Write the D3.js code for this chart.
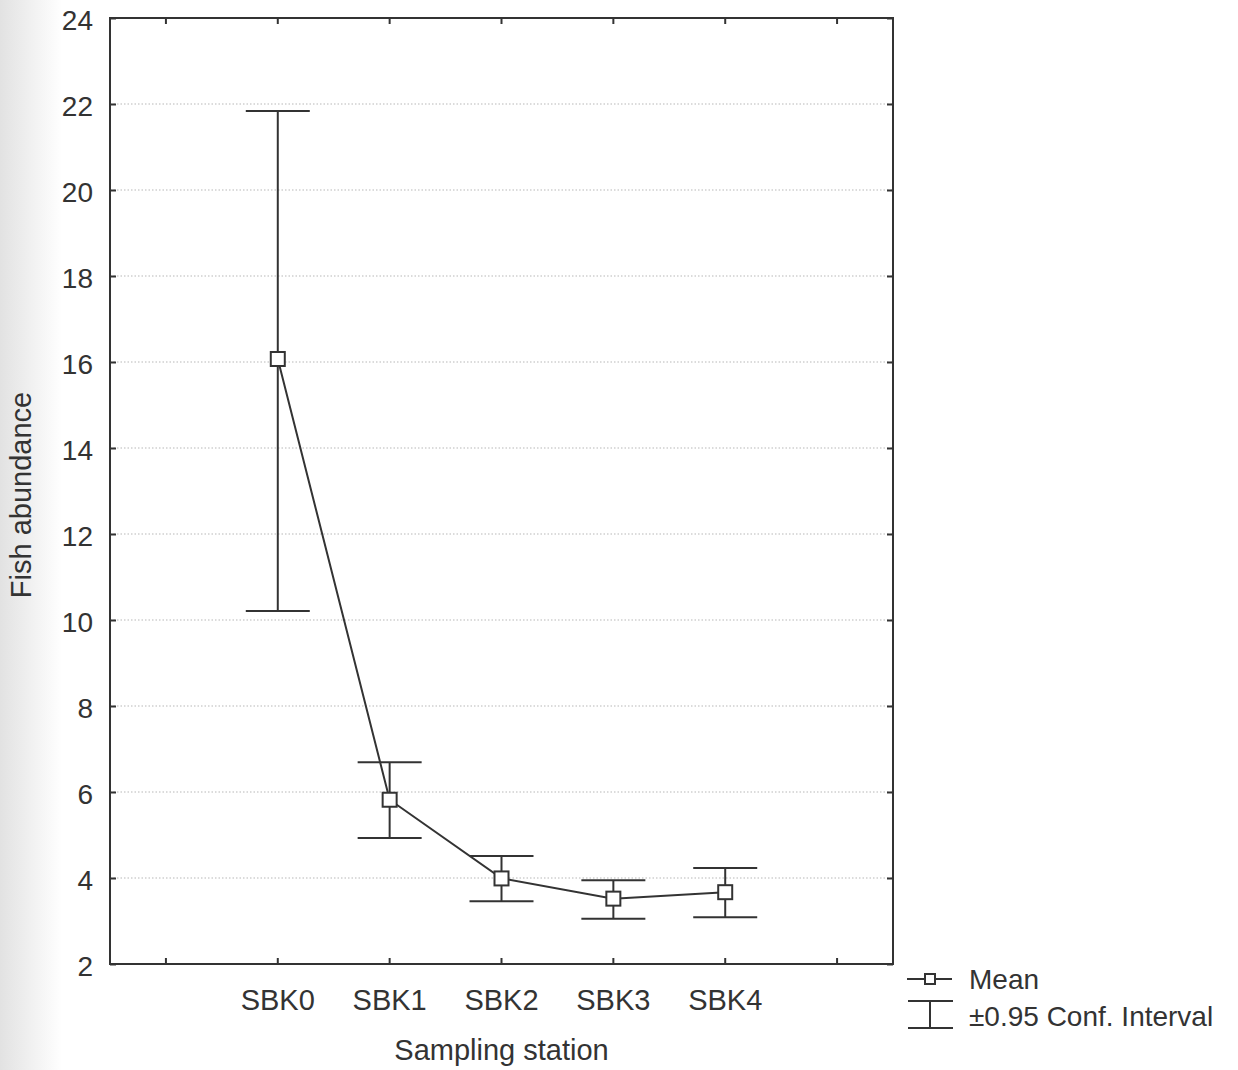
<!DOCTYPE html>
<html>
<head>
<meta charset="utf-8">
<script src="https://cdn.jsdelivr.net/npm/d3@7"></script>
<style>
  html, body { margin: 0; padding: 0; background: #fff; }
  svg { display: block; }
  text { font-family: "Liberation Sans", Arial, sans-serif; fill: #333; }
</style>
</head>
<body>
<svg id="chart" width="1238" height="1070"></svg>
<script>
// Fish abundance per sampling station: mean with 95% confidence interval
const stations = ["SBK0", "SBK1", "SBK2", "SBK3", "SBK4"];
const means = [16.07, 5.82, 3.99, 3.52, 3.67];
const upper = [21.84, 6.69, 4.51, 3.95, 4.23];
const lower = [10.21, 4.93, 3.46, 3.05, 3.09];
const yTicks = [2, 4, 6, 8, 10, 12, 14, 16, 18, 20, 22, 24];
const legendLabels = ["Mean", "\u00B10.95 Conf. Interval"];
const xTitle = "Sampling station";
const yTitle = "Fish abundance";

const data = stations.map((s, i) => ({ s, m: means[i], hi: upper[i], lo: lower[i] }));

const margin = { left: 110, right: 893, top: 18, bottom: 964 };
const ink = "#333";

const svg = d3.select("#chart");

// soft grey edge along the left margin
const defs = svg.append("defs");
const grad = defs.append("linearGradient").attr("id", "edge").attr("x1", 0).attr("x2", 1);
grad.append("stop").attr("offset", 0).attr("stop-color", "#e2e2e2");
grad.append("stop").attr("offset", 1).attr("stop-color", "#ffffff");
svg.append("rect").attr("x", 0).attr("y", 0).attr("width", 62).attr("height", 1070).attr("fill", "url(#edge)");

const x = d3.scalePoint().domain(stations).range([margin.left, margin.right]).padding(1.5);
const y = d3.scaleLinear().domain([2, 24]).range([margin.bottom, margin.top]);

// dotted horizontal grid
svg.append("g").selectAll("line")
  .data(yTicks.filter(t => t > 2 && t < 24))
  .join("line")
  .attr("x1", margin.left).attr("x2", margin.right)
  .attr("y1", d => y(d)).attr("y2", d => y(d))
  .attr("stroke", "#b8b8b8").attr("stroke-width", 1.2)
  .attr("stroke-dasharray", "1.5,2");

// category tick positions, including the empty slots at each end
const step = x.step();
const xTickPos = d3.range(-1, stations.length + 1).map(i => x(stations[0]) + i * step);
const tickLen = 6;

// left and right axes
const yAxisL = d3.axisLeft(y).tickValues(yTicks).tickSize(-tickLen).tickPadding(17).tickFormat(d3.format("d"));
const gL = svg.append("g").attr("transform", `translate(${margin.left},0)`).call(yAxisL);
gL.select(".domain").remove();
gL.selectAll("line").attr("stroke", ink).attr("stroke-width", 2);
gL.selectAll("text").attr("font-size", 28).attr("fill", ink).attr("dy", "0.4em")
  .attr("font-family", "'Liberation Sans', Arial, sans-serif");

const yAxisR = d3.axisRight(y).tickValues(yTicks).tickSize(-tickLen).tickFormat("");
const gR = svg.append("g").attr("transform", `translate(${margin.right},0)`).call(yAxisR);
gR.select(".domain").remove();
gR.selectAll("line").attr("stroke", ink).attr("stroke-width", 2);

// top and bottom ticks
svg.append("g").selectAll("line").data(xTickPos).join("line")
  .attr("x1", d => d).attr("x2", d => d)
  .attr("y1", margin.bottom).attr("y2", margin.bottom - tickLen)
  .attr("stroke", ink).attr("stroke-width", 2);
svg.append("g").selectAll("line").data(xTickPos).join("line")
  .attr("x1", d => d).attr("x2", d => d)
  .attr("y1", margin.top).attr("y2", margin.top + tickLen)
  .attr("stroke", ink).attr("stroke-width", 2);

// category labels
svg.append("g").selectAll("text").data(stations).join("text")
  .attr("x", d => x(d)).attr("y", 1010)
  .attr("text-anchor", "middle").attr("font-size", 29)
  .text(d => d);

// frame
svg.append("rect")
  .attr("x", margin.left).attr("y", margin.top)
  .attr("width", margin.right - margin.left).attr("height", margin.bottom - margin.top)
  .attr("fill", "none").attr("stroke", ink).attr("stroke-width", 2);

// axis titles
svg.append("text").attr("x", (margin.left + margin.right) / 2).attr("y", 1060)
  .attr("text-anchor", "middle").attr("font-size", 29).text(xTitle);
svg.append("text").attr("transform", `translate(31,${(margin.top + margin.bottom) / 2 + 4}) rotate(-90)`)
  .attr("text-anchor", "middle").attr("font-size", 29).text(yTitle);

// confidence intervals
const cap = 32;
const eb = svg.append("g").attr("stroke", ink).attr("stroke-width", 2).attr("fill", "none");
eb.selectAll(".v").data(data).join("line").attr("class", "v")
  .attr("x1", d => x(d.s)).attr("x2", d => x(d.s))
  .attr("y1", d => y(d.hi)).attr("y2", d => y(d.lo));
eb.selectAll(".t").data(data).join("line").attr("class", "t")
  .attr("x1", d => x(d.s) - cap).attr("x2", d => x(d.s) + cap)
  .attr("y1", d => y(d.hi)).attr("y2", d => y(d.hi));
eb.selectAll(".b").data(data).join("line").attr("class", "b")
  .attr("x1", d => x(d.s) - cap).attr("x2", d => x(d.s) + cap)
  .attr("y1", d => y(d.lo)).attr("y2", d => y(d.lo));

// mean line and markers
const line = d3.line().x(d => x(d.s)).y(d => y(d.m));
svg.append("path").datum(data).attr("d", line)
  .attr("fill", "none").attr("stroke", ink).attr("stroke-width", 2);
const sq = 14;
svg.append("g").selectAll("rect").data(data).join("rect")
  .attr("x", d => x(d.s) - sq / 2).attr("y", d => y(d.m) - sq / 2)
  .attr("width", sq).attr("height", sq)
  .attr("fill", "#fff").attr("stroke", ink).attr("stroke-width", 2);

// legend
const lg = svg.append("g");
lg.append("line").attr("x1", 907).attr("x2", 952).attr("y1", 979).attr("y2", 979)
  .attr("stroke", ink).attr("stroke-width", 2);
lg.append("rect").attr("x", 925).attr("y", 974).attr("width", 10).attr("height", 10)
  .attr("fill", "#fff").attr("stroke", ink).attr("stroke-width", 2);
lg.append("line").attr("x1", 908).attr("x2", 953).attr("y1", 1001).attr("y2", 1001)
  .attr("stroke", ink).attr("stroke-width", 2);
lg.append("line").attr("x1", 908).attr("x2", 953).attr("y1", 1028).attr("y2", 1028)
  .attr("stroke", ink).attr("stroke-width", 2);
lg.append("line").attr("x1", 930).attr("x2", 930).attr("y1", 1001).attr("y2", 1028)
  .attr("stroke", ink).attr("stroke-width", 2);
lg.selectAll("text").data(legendLabels).join("text")
  .attr("x", 969).attr("y", (d, i) => 989 + i * 37)
  .attr("font-size", 28).text(d => d);
</script>
</body>
</html>
